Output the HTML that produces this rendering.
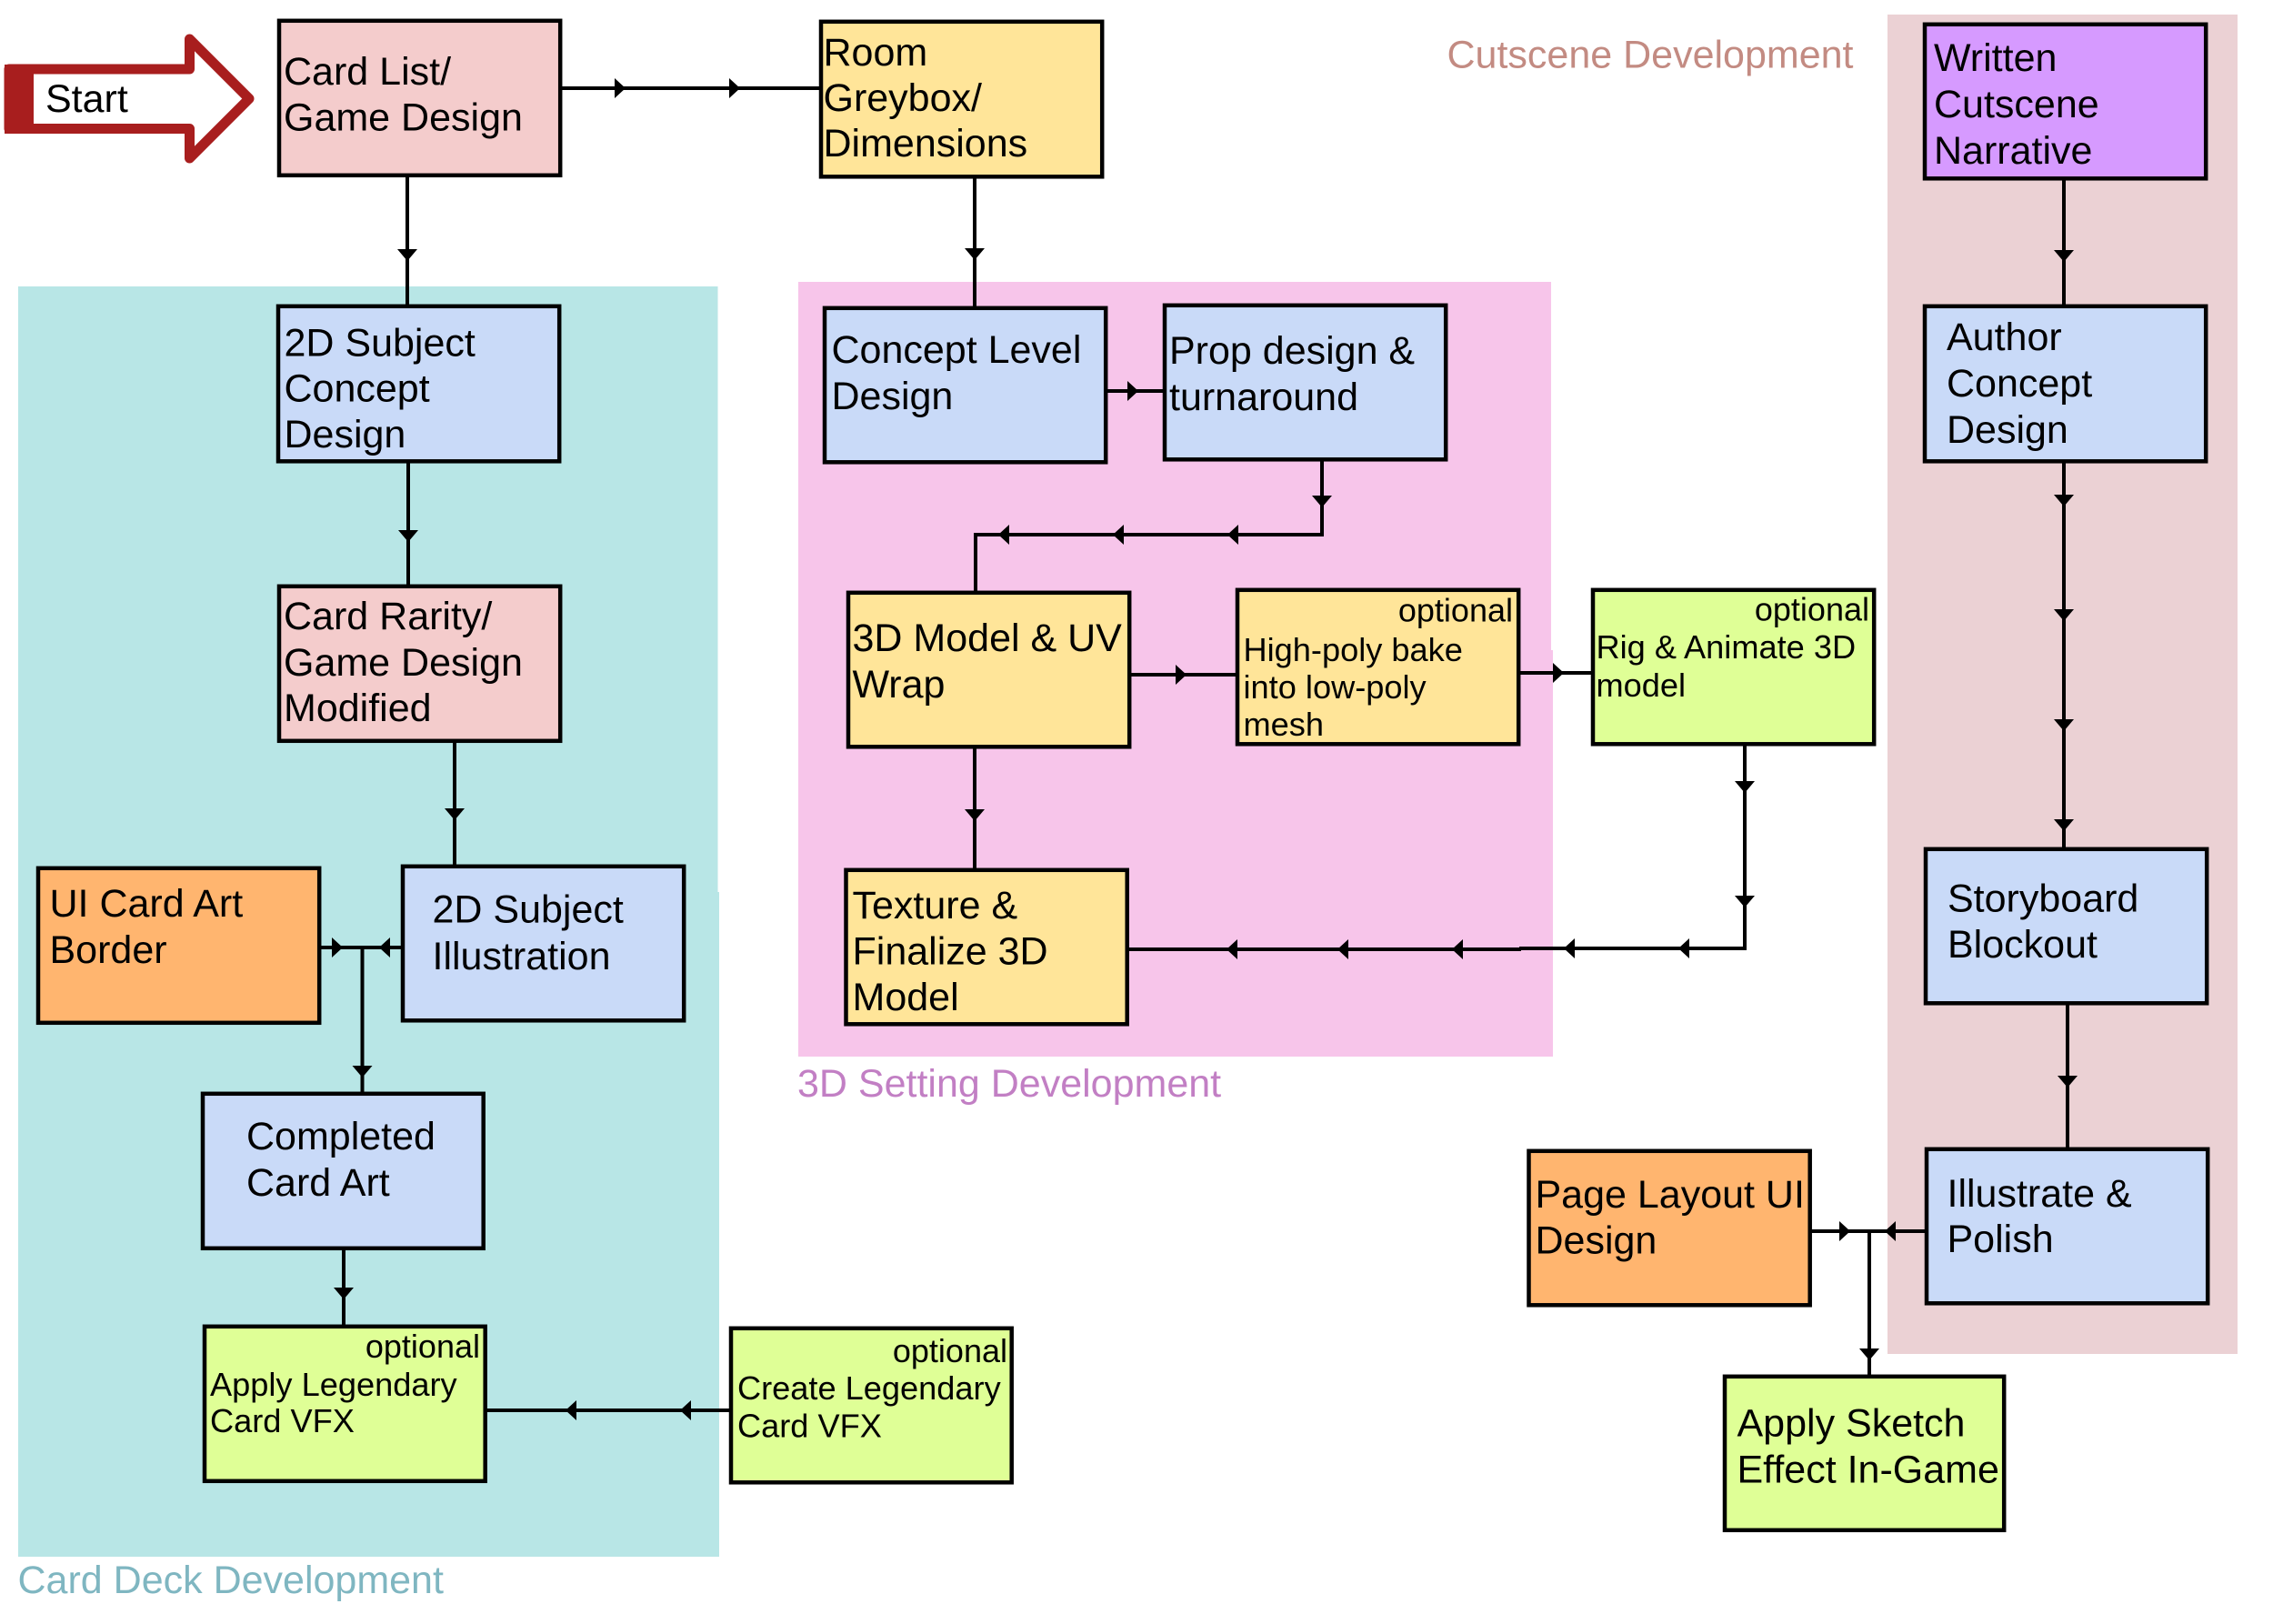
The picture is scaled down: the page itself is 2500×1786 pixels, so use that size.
<!DOCTYPE html>
<html>
<head>
<meta charset="utf-8">
<title>Development flowchart</title>
<style>
html,body{margin:0;padding:0;background:#fff;width:2500px;height:1786px;overflow:hidden}
svg{display:block}
text{font-family:"Liberation Sans",Arial,sans-serif;font-size:43px;fill:#000}
.s{font-size:36.2px}
.e{font-size:36px;text-anchor:end}
rect.b{stroke:#000;stroke-width:4.5}
.blue{fill:#c9daf8}.pink{fill:#f4cccc}.yel{fill:#ffe599}.grn{fill:#dfff96}.org{fill:#ffb56f}.pur{fill:#d69aff}
</style>
</head>
<body>
<svg width="2500" height="1786" viewBox="0 0 2500 1786" xmlns="http://www.w3.org/2000/svg">
<!-- regions -->
<path d="M20 315H789.5V981H791V1712H20Z" fill="#b8e6e6"/>
<path d="M878 310H1706V715H1708V1162H878Z" fill="#f7c5ea"/>
<rect x="2076" y="16" width="385" height="1473" fill="#ebd1d4"/>

<!-- connectors -->
<g fill="none" stroke="#000" stroke-width="4">
<path d="M617 97H902"/>
<path d="M448 194V336"/>
<path d="M1072 196V338"/>
<path d="M449 509V644"/>
<path d="M500 816V952"/>
<path d="M1217 430H1280"/>
<path d="M1454 507V588H1073V651"/>
<path d="M1243 742H1360"/>
<path d="M1671 740H1751"/>
<path d="M1919 820V1043H1671"/>
<path d="M1673 1044H1240"/>
<path d="M1072 823V956"/>
<path d="M2270 198V336"/>
<path d="M2270 509V933"/>
<path d="M2274 1105V1263"/>
<path d="M1991 1354H2118"/>
<path d="M2056 1354V1513"/>
<path d="M352 1042H442"/>
<path d="M398.5 1042V1202"/>
<path d="M378 1374V1458"/>
<path d="M534 1551H803"/>
</g>
<!-- arrowheads -->
<path fill="#000" d="
M676 86V108L688 97Z M802 86V108L814 97Z
M437 274H459L448 287Z M1061 273H1083L1072 286Z
M438 583H460L449 596Z M489 889H511L500 902Z
M1240 419V441L1252 430Z
M1443 545H1465L1454 558Z
M1362 577V599L1350 588Z M1236 577V599L1224 588Z M1110 577V599L1098 588Z
M1293 731V753L1305 742Z M1708 729V751L1720 740Z
M1908 859H1930L1919 872Z M1908 985H1930L1919 998Z
M1858 1032V1054L1846 1043Z M1732 1032V1054L1720 1043Z M1609 1033V1055L1597 1044Z M1483 1033V1055L1471 1044Z M1361 1033V1055L1349 1044Z
M1061 890H1083L1072 903Z
M2259 275H2281L2270 288Z M2259 544H2281L2270 557Z M2259 670H2281L2270 683Z M2259 791H2281L2270 804Z M2259 901H2281L2270 914Z
M2263 1183H2285L2274 1196Z
M2023 1343V1365L2035 1354Z M2085 1343V1365L2073 1354Z
M2045 1483H2067L2056 1496Z
M365 1031V1053L377 1042Z M429 1031V1053L417 1042Z
M387.5 1172H409.5L398.5 1185Z
M367 1416H389L378 1429Z
M760 1540V1562L748 1551Z M634 1540V1562L622 1551Z"/>

<!-- start arrow -->
<path d="M10 76H208.5V43L274 108.5L208.5 174V141.5H10Z" fill="#fff" stroke="#a81e1e" stroke-width="11" stroke-linejoin="round"/>
<rect x="5" y="71" width="32" height="76" fill="#a81e1e"/>
<text x="50" y="123">Start</text>

<!-- boxes -->
<rect class="b pink" x="307" y="22.8" width="309.2" height="170"/>
<rect class="b yel" x="903" y="23.8" width="309.2" height="170.5"/>
<rect class="b blue" x="306" y="336.8" width="309.2" height="170.5"/>
<rect class="b pink" x="307" y="644.8" width="309.2" height="170"/>
<rect class="b blue" x="907" y="338.8" width="309.2" height="169.5"/>
<rect class="b blue" x="1281" y="335.8" width="309.2" height="169.5"/>
<rect class="b yel" x="933" y="651.8" width="309.2" height="169.5"/>
<rect class="b yel" x="1361" y="648.8" width="309.2" height="169.5"/>
<rect class="b grn" x="1752" y="648.8" width="309.2" height="169.5"/>
<rect class="b pur" x="2117" y="26.8" width="309.2" height="169.5"/>
<rect class="b blue" x="2117" y="336.8" width="309.2" height="170.5"/>
<rect class="b blue" x="2118" y="933.8" width="309.2" height="169.5"/>
<rect class="b blue" x="2119" y="1263.8" width="309.2" height="169.5"/>
<rect class="b org" x="1681.5" y="1265.8" width="309.2" height="169.5"/>
<rect class="b grn" x="1897" y="1513.8" width="307.2" height="169"/>
<rect class="b org" x="42" y="954.8" width="309.2" height="170"/>
<rect class="b blue" x="443" y="952.8" width="309.2" height="169.5"/>
<rect class="b yel" x="930.5" y="956.8" width="309.2" height="169.5"/>
<rect class="b blue" x="223" y="1202.8" width="308.7" height="170"/>
<rect class="b grn" x="225" y="1458.8" width="308.7" height="170"/>
<rect class="b grn" x="804" y="1460.8" width="308.7" height="169.5"/>

<!-- box text -->
<g transform="translate(-1.5 0)">
<text x="313.5" y="93">Card List/</text>
<text x="313.5" y="143.5">Game Design</text>
<text x="907" y="72">Room</text>
<text x="907" y="122">Greybox/</text>
<text x="907" y="172">Dimensions</text>
<text x="314" y="391.5">2D Subject</text>
<text x="314" y="441.5">Concept</text>
<text x="314" y="492">Design</text>
<text x="313.5" y="692">Card Rarity/</text>
<text x="313.5" y="743">Game Design</text>
<text x="313.5" y="793">Modified</text>
<text x="916" y="399">Concept Level</text>
<text x="916" y="450">Design</text>
<text x="1287.5" y="400">Prop design &amp;</text>
<text x="1287.5" y="451">turnaround</text>
<text x="939" y="716">3D Model &amp; UV</text>
<text x="939" y="767">Wrap</text>
<text x="2128.5" y="78">Written</text>
<text x="2128.5" y="129">Cutscene</text>
<text x="2128.5" y="180">Narrative</text>
<text x="2142.5" y="385">Author</text>
<text x="2142.5" y="436">Concept</text>
<text x="2142.5" y="487">Design</text>
<text x="2143.5" y="1002.5">Storyboard</text>
<text x="2143.5" y="1053">Blockout</text>
<text x="2143" y="1327">Illustrate &amp;</text>
<text x="2143" y="1377">Polish</text>
<text x="1690" y="1328">Page Layout UI</text>
<text x="1690" y="1378.5">Design</text>
<text x="1912" y="1579.5">Apply Sketch</text>
<text x="1912" y="1630.5">Effect In-Game</text>
<text x="56" y="1008">UI Card Art</text>
<text x="56" y="1059">Border</text>
<text x="477" y="1014.5">2D Subject</text>
<text x="477" y="1066">Illustration</text>
<text x="939" y="1010">Texture &amp;</text>
<text x="939" y="1060.5">Finalize 3D</text>
<text x="939" y="1111">Model</text>
<text x="272.5" y="1264">Completed</text>
<text x="272.5" y="1315">Card Art</text>
<text x="1593" y="74.5" style="fill:#c38b82">Cutscene Development</text>
<text x="878.5" y="1206" style="fill:#c27fc4">3D Setting Development</text>
</g>
<text class="e" x="1664" y="683.5">optional</text>
<text class="s" x="1367.5" y="727">High-poly bake</text>
<text class="s" x="1367.5" y="768">into low-poly</text>
<text class="s" x="1367.5" y="809">mesh</text>
<text class="e" x="2056" y="682.5">optional</text>
<text class="s" x="1755.5" y="724">Rig &amp; Animate 3D</text>
<text class="s" x="1755.5" y="766">model</text>
<text class="e" x="528" y="1493">optional</text>
<text class="s" x="231" y="1535">Apply Legendary</text>
<text class="s" x="231" y="1575">Card VFX</text>
<text class="e" x="1108" y="1498">optional</text>
<text class="s" x="811" y="1539">Create Legendary</text>
<text class="s" x="811" y="1580.5">Card VFX</text>
<text x="19.5" y="1752" style="fill:#7fb6c1">Card Deck Development</text>
</svg>
</body>
</html>
